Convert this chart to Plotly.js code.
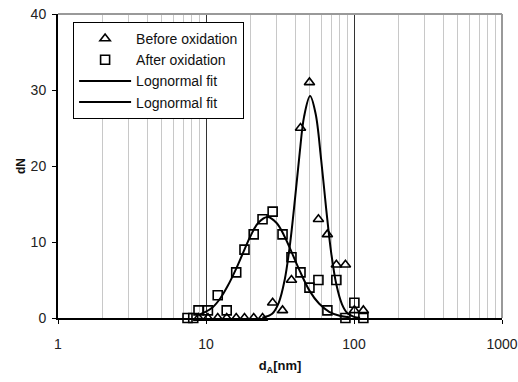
<!DOCTYPE html>
<html>
<head>
<meta charset="utf-8">
<script src="https://cdn.plot.ly/plotly-3.0.1.min.js"></script>
<style>html,body{margin:0;padding:0;background:#fff;}#chart{width:518px;height:382px;}</style>
</head>
<body>
<div id="chart"></div>
<script>
// Measured bins (nm) and counts
const beforeX = [8.9, 10.3, 12.0, 13.8, 16.0, 18.2, 21.0, 24.1, 28.2, 32.9, 37.8, 43.5, 50, 57.5, 66.1, 76, 87.5, 100.6, 115.7];
const beforeY = [0, 0, 0, 0, 0, 0, 0, 0, 2, 1, 5, 25, 31, 13, 11, 7, 7, 1, 1];
const afterX = [7.5, 8.2, 8.9, 10.3, 12.0, 13.8, 16.0, 18.2, 21.0, 24.1, 28.2, 32.9, 37.8, 43.5, 50, 57.5, 66.1, 76, 87.5, 100.6, 115.7];
const afterY = [0, 0, 1, 1, 3, 1, 6, 9, 11, 13, 14, 11, 8, 6, 4, 5, 1, 5, 0, 2, 0];
// Fit curves
const fitBeforeX = [24, 28, 31, 34, 37, 40, 43, 46, 50.5, 55, 60, 65, 70, 76, 83, 90, 100, 110];
const fitBeforeY = [0.05, 0.56, 2.0, 5.0, 9.8, 15.8, 21.8, 26.5, 29.2, 26.9, 20.8, 14.2, 8.7, 4.4, 1.8, 0.66, 0.15, 0.03];
const fitAfterX = [9, 10, 11.1, 12.5, 14, 16, 18, 20, 22.5, 26, 30, 34, 38, 43, 50, 58, 68, 80, 93];
const fitAfterY = [0.44, 0.83, 1.41, 2.6, 4.2, 6.5, 8.8, 10.8, 12.5, 13.3, 12.5, 10.7, 8.6, 6.2, 3.6, 1.9, 0.81, 0.29, 0.1];
const xTickVals = [1, 10, 100, 1000];
const xTickText = ['1', '10', '100', '1000'];
const yTickVals = [0, 10, 20, 30, 40];

const traces = [
  {x: beforeX, y: beforeY, type: 'scatter', mode: 'markers', name: 'Before oxidation',
   marker: {symbol: 'triangle-up-open', size: 9, color: '#000', line: {width: 1.6, color: '#000'}},
   legendgroup: 'a', cliponaxis: false},
  {x: afterX, y: afterY, type: 'scatter', mode: 'markers', name: 'After oxidation',
   marker: {symbol: 'square-open', size: 9, color: '#000', line: {width: 1.6, color: '#000'}},
   legendgroup: 'b', cliponaxis: false},
  {x: fitBeforeX, y: fitBeforeY, type: 'scatter', mode: 'lines', name: 'Lognormal fit',
   line: {color: '#000', width: 2, shape: 'spline'}, legendgroup: 'c'},
  {x: fitAfterX, y: fitAfterY, type: 'scatter', mode: 'lines', name: 'Lognormal fit',
   line: {color: '#000', width: 2, shape: 'spline'}, legendgroup: 'd'}
];

const layout = {
  width: 518, height: 382,
  margin: {l: 58, r: 16, t: 14, b: 64},
  paper_bgcolor: '#fff', plot_bgcolor: '#fff',
  font: {family: 'Liberation Sans, Arial, sans-serif', size: 14, color: '#222'},
  showlegend: true,
  legend: {x: 0.034, y: 0.974, xanchor: 'left', yanchor: 'top',
    bordercolor: '#000', borderwidth: 1, bgcolor: '#fff',
    font: {size: 14, color: '#111'}, traceorder: 'grouped', tracegroupgap: 0,
    itemwidth: 52},
  xaxis: {type: 'log', range: [0, 3], tickvals: xTickVals, ticktext: xTickText,
    showgrid: true, gridcolor: '#333', gridwidth: 1,
    minor: {dtick: 'D1', showgrid: true, gridcolor: '#c8c8c8', gridwidth: 1, ticks: ''},
    showline: true, linecolor: '#000', linewidth: 2,
    ticks: 'outside', ticklen: 4, tickcolor: '#000', ticklabelstandoff: 8,
    zeroline: false, tickfont: {size: 14, color: '#222'},
    title: {text: '<b>d<sub>A</sub>[nm]</b>', font: {size: 13, color: '#111'}, standoff: 10}},
  yaxis: {range: [0, 40], tickvals: yTickVals, showgrid: false, zeroline: false,
    showline: true, linecolor: '#000', linewidth: 2,
    ticks: 'outside', ticklen: 4, tickcolor: '#000', ticklabelstandoff: 3,
    tickfont: {size: 14, color: '#222'},
    title: {text: '<b>dN</b>', font: {size: 12, color: '#111'}, standoff: 2}},
  shapes: [
    {type: 'line', xref: 'paper', yref: 'paper', x0: 0, x1: 1, y0: 1, y1: 1, line: {color: '#999', width: 2}},
    {type: 'line', xref: 'paper', yref: 'paper', x0: 1, x1: 1, y0: 0, y1: 1, line: {color: '#999', width: 2}}
  ]
};

Plotly.newPlot('chart', traces, layout, {displayModeBar: false, staticPlot: true});
</script>
</body>
</html>
